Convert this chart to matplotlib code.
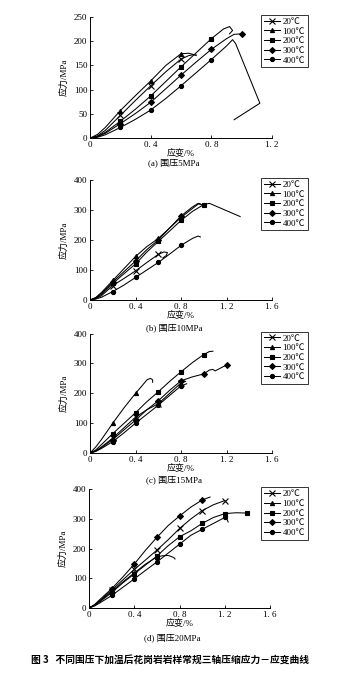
import numpy as np
import matplotlib
matplotlib.use("Agg")
import matplotlib.pyplot as plt

plt.rcParams["font.family"] = ["Liberation Serif", "Noto Sans CJK SC"]
plt.rcParams["font.size"] = 6.5

temps = ["20℃", "100℃", "200℃", "300℃", "400℃"]
markers = ["x", "^", "s", "D", "o"]

# (a) 围压5MPa
a_x = [
    [0, 0.05, 0.1, 0.2, 0.3, 0.4, 0.5, 0.6, 0.65, 0.68, 0.70],
    [0, 0.05, 0.1, 0.2, 0.3, 0.4, 0.5, 0.6, 0.65, 0.7],
    [0, 0.05, 0.1, 0.2, 0.3, 0.4, 0.5, 0.6, 0.7, 0.8, 0.88, 0.92, 0.94, 0.92],
    [0, 0.05, 0.1, 0.2, 0.3, 0.4, 0.5, 0.6, 0.7, 0.8, 0.9, 0.95, 1.0],
    [0, 0.05, 0.1, 0.2, 0.3, 0.4, 0.5, 0.6, 0.7, 0.8, 0.9, 0.94, 0.96, 1.12, 0.95],
]
a_y = [
    [0, 5, 16, 47, 78, 108, 137, 163, 170, 172, 171],
    [0, 8, 22, 57, 88, 118, 150, 174, 175, 171],
    [0, 4, 12, 35, 60, 87, 117, 147, 176, 205, 225, 230, 222, 215],
    [0, 3, 10, 30, 51, 74, 102, 130, 157, 183, 205, 214, 215],
    [0, 2, 7, 22, 39, 58, 82, 108, 135, 162, 190, 203, 195, 72, 38],
]

# (b) 围压10MPa
b_x = [
    [0, 0.05, 0.1, 0.2, 0.3, 0.4, 0.5, 0.6, 0.65, 0.68, 0.67, 0.64],
    [0, 0.05, 0.1, 0.2, 0.3, 0.4, 0.5, 0.6, 0.7, 0.8, 0.9, 0.96, 0.98],
    [0, 0.05, 0.1, 0.2, 0.3, 0.4, 0.5, 0.6, 0.7, 0.8, 0.9, 1.0, 1.05, 1.32],
    [0, 0.05, 0.1, 0.2, 0.3, 0.4, 0.5, 0.6, 0.7, 0.8, 0.9, 0.95, 0.97],
    [0, 0.05, 0.1, 0.2, 0.3, 0.4, 0.5, 0.6, 0.7, 0.8, 0.9, 0.95, 0.97],
]
b_y = [
    [0, 4, 14, 48, 72, 97, 125, 152, 160, 158, 148, 140],
    [0, 8, 25, 65, 105, 145, 178, 205, 240, 275, 305, 322, 318],
    [0, 6, 18, 55, 88, 120, 160, 195, 230, 265, 295, 318, 322, 278],
    [0, 7, 22, 60, 95, 130, 168, 200, 240, 280, 310, 322, 318],
    [0, 3, 9, 28, 50, 75, 100, 125, 153, 182, 205, 213, 210],
]

# (c) 围压15MPa
c_x = [
    [0, 0.05, 0.1, 0.2, 0.3, 0.4, 0.5, 0.6, 0.7, 0.8, 0.84],
    [0, 0.05, 0.1, 0.2, 0.3, 0.4, 0.45, 0.5, 0.53, 0.55, 0.55],
    [0, 0.05, 0.1, 0.2, 0.3, 0.4, 0.5, 0.6, 0.7, 0.8, 0.9, 1.0, 1.05, 1.08],
    [0, 0.05, 0.1, 0.2, 0.3, 0.4, 0.5, 0.6, 0.7, 0.8, 0.9, 1.0, 1.05, 1.08, 1.1, 1.15, 1.2],
    [0, 0.05, 0.1, 0.2, 0.3, 0.4, 0.5, 0.6, 0.7, 0.8, 0.85],
]
c_y = [
    [0, 7, 20, 50, 85, 120, 145, 165, 200, 235, 240],
    [0, 20, 45, 100, 152, 200, 222, 245, 250, 245, 237],
    [0, 10, 28, 65, 100, 135, 172, 205, 240, 272, 303, 330, 340, 341],
    [0, 6, 18, 45, 78, 110, 145, 175, 210, 242, 255, 265, 278, 280, 275, 285, 295],
    [0, 5, 15, 38, 68, 100, 130, 160, 193, 225, 232],
]

# (d) 围压20MPa
d_x = [
    [0, 0.05, 0.1, 0.2, 0.3, 0.4, 0.5, 0.6, 0.7, 0.8, 0.9, 1.0, 1.1, 1.2],
    [0, 0.05, 0.1, 0.2, 0.3, 0.4, 0.5, 0.6, 0.65, 0.7, 0.75, 0.76],
    [0, 0.05, 0.1, 0.2, 0.3, 0.4, 0.5, 0.6, 0.7, 0.8, 0.9, 1.0, 1.1, 1.2, 1.3, 1.4],
    [0, 0.05, 0.1, 0.2, 0.3, 0.4, 0.5, 0.6, 0.7, 0.8, 0.9, 1.0, 1.07],
    [0, 0.05, 0.1, 0.2, 0.3, 0.4, 0.5, 0.6, 0.7, 0.8, 0.9, 1.0, 1.1, 1.2, 1.22, 1.23],
]
d_y = [
    [0, 10, 26, 60, 95, 130, 162, 195, 230, 268, 300, 328, 348, 362],
    [0, 10, 25, 55, 88, 118, 148, 172, 176, 177, 170, 165],
    [0, 8, 22, 52, 85, 115, 145, 175, 210, 240, 260, 285, 305, 318, 321, 320],
    [0, 12, 30, 65, 105, 148, 195, 238, 278, 310, 340, 364, 374],
    [0, 7, 18, 42, 70, 98, 127, 155, 185, 215, 245, 265, 285, 305, 300, 290],
]

xt_a = [0, 0.4, 0.8, 1.2]
xt_b = [0, 0.4, 0.8, 1.2, 1.6]
xtl_a = ["0", "0. 4", "0. 8", "1. 2"]
xtl_b = ["0", "0. 4", "0. 8", "1. 2", "1. 6"]
yt_a = [0, 50, 100, 150, 200, 250]
yt_b = [0, 100, 200, 300, 400]

panels = [
    ("(a) 围压5MPa", a_x, a_y, 1.2, 250, xt_a, xtl_a, yt_a),
    ("(b) 围压10MPa", b_x, b_y, 1.6, 400, xt_b, xtl_b, yt_b),
    ("(c) 围压15MPa", c_x, c_y, 1.6, 400, xt_b, xtl_b, yt_b),
    ("(d) 围压20MPa", d_x, d_y, 1.6, 400, xt_b, xtl_b, yt_b),
]

# axes boxes in figure fractions: left, bottom, width, height
boxes = [
    [0.265, 0.795, 0.535, 0.180],
    [0.265, 0.555, 0.535, 0.178],
    [0.265, 0.328, 0.535, 0.177],
    [0.262, 0.098, 0.532, 0.176],
]
# caption offsets below each axis, in figure fraction
cap_gap = [0.036, 0.041, 0.040, 0.045]

fig = plt.figure(figsize=(3.4, 6.74), dpi=100)

for (title, xs, ys, xmax, ymax, xt, xtl, yt), box, gap in zip(panels, boxes, cap_gap):
    ax = fig.add_axes(box)
    handles = []
    for x, y, m, lab in zip(xs, ys, markers, temps):
        x = np.array(x)
        y = np.array(y)
        # markers on the 0.2 strain grid
        idx = [i for i, v in enumerate(x) if v > 0 and abs(v / 0.2 - round(v / 0.2)) < 1e-6]
        h, = ax.plot(x, y, color="black", lw=0.75, marker=m, ms=3 if m != "x" else 4,
                     mew=0.8, markevery=idx, label=lab)
        handles.append(h)
    ax.set_xlim(0, xmax)
    ax.set_ylim(0, ymax)
    ax.set_xticks(xt)
    ax.set_xticklabels(xtl)
    ax.set_yticks(yt)
    for s in ["top", "right"]:
        ax.spines[s].set_visible(False)
    ax.spines["left"].set_linewidth(0.7)
    ax.spines["bottom"].set_linewidth(0.7)
    ax.tick_params(direction="in", length=2, width=0.6, labelsize=6.5, pad=2)
    ax.set_ylabel("应力/MPa", fontsize=6.5, labelpad=4)
    ax.set_xlabel("应变/%", fontsize=6.5, labelpad=0)
    fig.text(box[0] + box[2] / 2 - 0.02, box[1] - gap, title, ha="center", va="center", fontsize=6.5)
    top = box[1] + box[3]
    leg = fig.legend(handles=handles, loc="upper right", bbox_to_anchor=(0.905, top + 0.003),
                     fontsize=6.5, frameon=True, fancybox=False, edgecolor="black",
                     handlelength=1.8, handletextpad=0.3, labelspacing=0.15,
                     borderpad=0.3, borderaxespad=0)
    leg.get_frame().set_linewidth(0.7)

fig.text(0.5, 0.013, "图 3   不同围压下加温后花岗岩岩样常规三轴压缩应力－应变曲线",
         ha="center", va="bottom", fontsize=7, fontweight="bold",
         family=["Noto Sans CJK SC", "DejaVu Sans"])

fig.savefig("out.png", dpi=100)
